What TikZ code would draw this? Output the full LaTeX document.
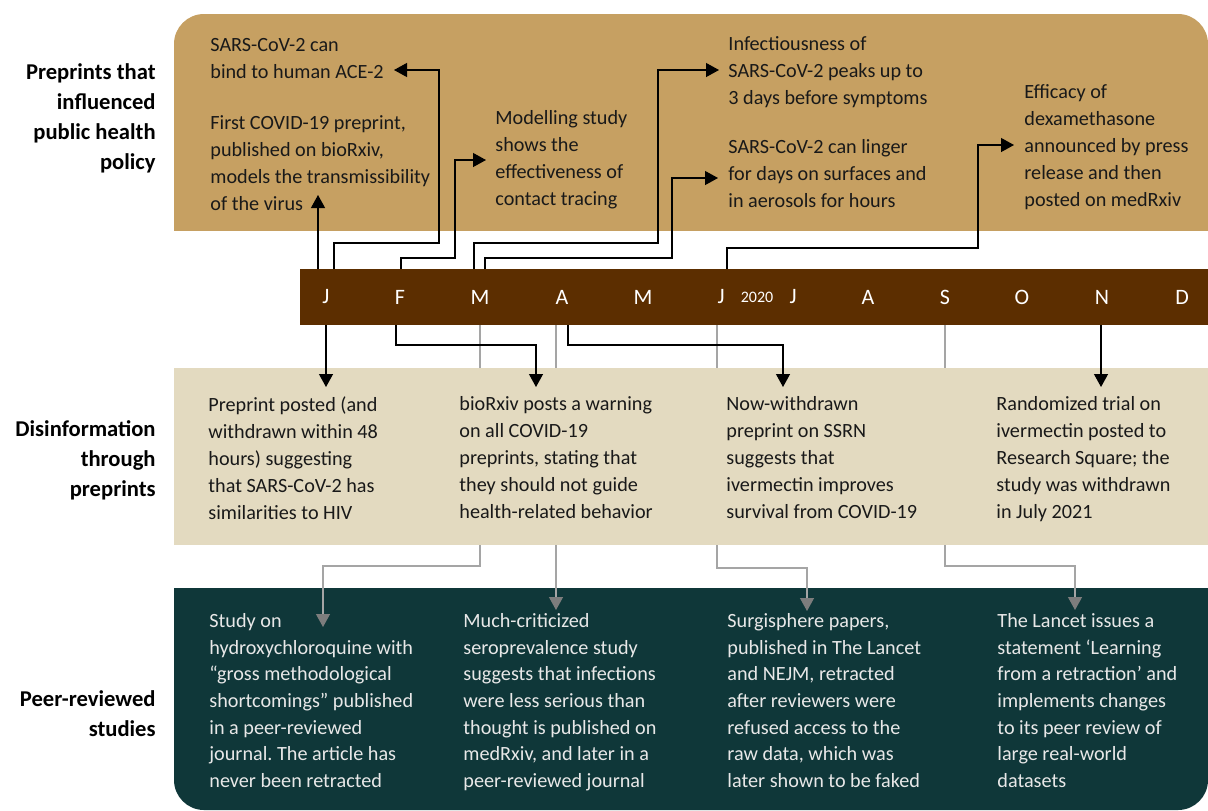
\documentclass[tikz,border=0pt]{standalone}
\usepackage{fontspec}
\setmainfont{Carlito}
\usetikzlibrary{arrows.meta}
\definecolor{bandtan}{RGB}{198,160,98}
\definecolor{bandbeige}{RGB}{227,218,192}
\definecolor{barbrown}{RGB}{92,46,0}
\definecolor{bandteal}{RGB}{15,55,57}
\definecolor{linkgray}{RGB}{165,165,165}
\definecolor{tipgray}{RGB}{125,125,125}
\definecolor{inkdark}{RGB}{25,25,25}
\definecolor{inklight}{RGB}{232,232,232}
\frenchspacing
\begin{document}
\begin{tikzpicture}[x=0.5pt,y=-0.5pt,
  body/.style={anchor=north west, align=left, inner sep=0pt,
    font=\fontsize{10.1}{13.5}\selectfont, execute at begin node=\strut},
  bodytight/.style={body, font=\fontsize{10.1}{13.35}\selectfont},
  rowlabel/.style={anchor=north east, align=right, inner sep=0pt,
    font=\fontsize{11.3}{15}\selectfont\bfseries, execute at begin node=\strut},
  month/.style={text=white, inner sep=0pt, font=\fontsize{11}{13}\selectfont},
  link/.style={draw=black, line width=0.6pt, -{Triangle[width=7pt,length=6.5pt]}},
  glink/.style={draw=linkgray, line width=0.6pt,
    -{Triangle[width=7pt,length=6.5pt,color=tipgray]}}]
\useasboundingbox (0,0) rectangle (1208,810);

% top band (rounded top corners)
\begin{scope}
  \clip (0,0) rectangle (1208,230);
  \fill[bandtan, rounded corners=15pt] (174,14) rectangle (1208,300);
\end{scope}
% bottom band (rounded bottom corners)
\begin{scope}
  \clip (0,588) rectangle (1208,810);
  \fill[bandteal, rounded corners=15pt] (174,520) rectangle (1208,810);
\end{scope}
% month bar
\fill[barbrown] (300,269) rectangle (1208,325);

% month labels
\node[month] (mJan) at (326,297) {J};
\node[month] (mFeb) at (400,297) {F};
\node[month] (mMar) at (480,297) {M};
\node[month] (mApr) at (562,297) {A};
\node[month] (mMay) at (643,297) {M};
\node[month] (mJun) at (721,297) {J};
\node[month, font=\fontsize{8}{10}\selectfont] (year) at (757,297) {2020};
\node[month] (mJul) at (793,297) {J};
\node[month] (mAug) at (868,297) {A};
\node[month] (mSep) at (945,297) {S};
\node[month] (mOct) at (1022,297) {O};
\node[month] (mNov) at (1102,297) {N};
\node[month] (mDec) at (1182,297) {D};

% attachment points on the bar
\coordinate (t1) at (318,269);
\coordinate (t2) at (334,269);
\coordinate (t3) at (401,269);
\coordinate (t4) at (474,269);
\coordinate (t5) at (485,269);
\coordinate (t6) at (727,269);
\coordinate (b1) at (326,325);
\coordinate (b2) at (396,325);
\coordinate (b3) at (568,325);
\coordinate (b4) at (1101,325);
\coordinate (g1) at (480,325);
\coordinate (g2) at (556,325);
\coordinate (g3) at (717,325);
\coordinate (g4) at (945,325);

% arrow tips
\coordinate (e1) at (318,195);
\coordinate (e2) at (394,70);
\coordinate (e3) at (486,160);
\coordinate (e4) at (719,70);
\coordinate (e5) at (718,178);
\coordinate (e6) at (1014,145);
\coordinate (f1) at (326,387);
\coordinate (f2) at (536,387);
\coordinate (f3) at (783,387);
\coordinate (f4) at (1101,387);
\coordinate (h1) at (323,627);
\coordinate (h2) at (556,610);
\coordinate (h3) at (807,611);
\coordinate (h4) at (1075,610);

% grey links into the peer-reviewed row (run behind the middle band)
\draw[glink] (g1) |- (400,566) -| (h1);
\draw[glink] (g2) -- (h2);
\draw[glink] (g3) |- (760,568) -| (h3);
\draw[glink] (g4) |- (1000,566) -| (h4);

% middle band
\fill[bandbeige] (174,368) rectangle (1208,545);

% black links into the top row
\draw[link] (t1) -- (e1);
\draw[link] (t2) |- (400,243) -- (439,243) |- (e2);
\draw[link] (t3) |- (430,258) -- (455,258) |- (e3);
\draw[link] (t4) |- (600,243) -- (658,243) |- (e4);
\draw[link] (t5) |- (600,258) -- (672,258) |- (e5);
\draw[link] (t6) |- (900,248) -- (978,248) |- (e6);

% black links into the disinformation row
\draw[link] (b1) -- (f1);
\draw[link] (b2) |- (470,345) -| (f2);
\draw[link] (b3) |- (700,345) -| (f3);
\draw[link] (b4) -- (f4);

% row labels
\node[rowlabel] (lab1) at (156,63) {Preprints that\\influenced\\public health\\policy};
\node[rowlabel] (lab2) at (156,420) {Disinformation\\through\\preprints};
\node[rowlabel] (lab3) at (156,690) {Peer-reviewed\\studies};

% top row texts
\node[body, text=inkdark] (p1) at (210,38) {SARS-CoV-2 can\\bind to human ACE-2};
\node[body, text=inkdark] (p2) at (210,115) {First COVID-19 preprint,\\published on bioRxiv,\\models the transmissibility\\of the virus};
\node[body, text=inkdark] (p3) at (495,110) {Modelling study\\shows the\\effectiveness of\\contact tracing};
\node[body, text=inkdark] (p4) at (728,36) {Infectiousness of\\SARS-CoV-2 peaks up to\\3 days before symptoms};
\node[body, text=inkdark] (p5) at (728,139) {SARS-CoV-2 can linger\\for days on surfaces and\\in aerosols for hours};
\node[body, text=inkdark] (p6) at (1024,84) {Efficacy of\\dexamethasone\\announced by press\\release and then\\posted on medRxiv};

% middle row texts
\node[body, text=inkdark] (d1) at (208,396) {Preprint posted (and\\withdrawn within 48\\hours) suggesting\\that SARS-CoV-2 has\\similarities to HIV};
\node[body, text=inkdark] (d2) at (459,396) {bioRxiv posts a warning\\on all COVID-19\\preprints, stating that\\they should not guide\\health-related behavior};
\node[body, text=inkdark] (d3) at (726,396) {Now-withdrawn\\preprint on SSRN\\suggests that\\ivermectin improves\\survival from COVID-19};
\node[body, text=inkdark] (d4) at (996,396) {Randomized trial on\\ivermectin posted to\\Research Square; the\\study was withdrawn\\in July 2021};

% bottom row texts
\node[bodytight, text=inklight] (r1) at (209,613) {Study on\\hydroxychloroquine with\\“gross methodological\\shortcomings” published\\in a peer-reviewed\\journal. The article has\\never been retracted};
\node[bodytight, text=inklight] (r2) at (463,613) {Much-criticized\\seroprevalence study\\suggests that infections\\were less serious than\\thought is published on\\medRxiv, and later in a\\peer-reviewed journal};
\node[bodytight, text=inklight] (r3) at (727,613) {Surgisphere papers,\\published in The Lancet\\and NEJM, retracted\\after reviewers were\\refused access to the\\raw data, which was\\later shown to be faked};
\node[bodytight, text=inklight] (r4) at (997,613) {The Lancet issues a\\statement ‘Learning\\from a retraction’ and\\implements changes\\to its peer review of\\large real-world\\datasets};
\end{tikzpicture}
\end{document}
